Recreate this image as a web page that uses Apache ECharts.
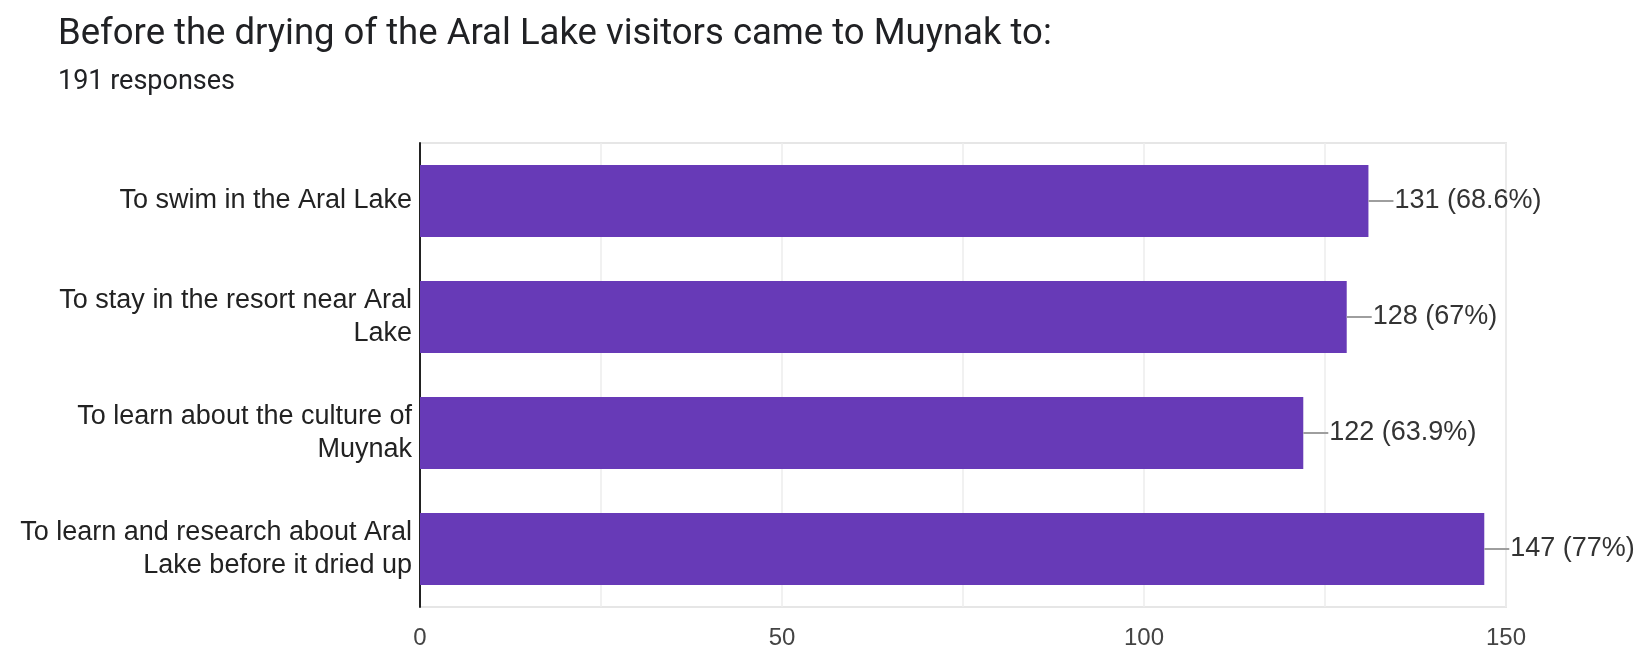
<!DOCTYPE html>
<html>
<head>
<meta charset="utf-8">
<script src="https://cdn.jsdelivr.net/npm/echarts@6/dist/echarts.min.js"></script>
<style>html,body{margin:0;padding:0;background:#fff}#c{width:1644px;height:650px}</style>
</head>
<body>
<div id="c"></div>
<script>
const titleText = 'Before the drying of the Aral Lake visitors came to Muynak to:';
const subtitleText = '191 responses';
const totalResponses = 191;
const categories = [
  'To swim in the Aral Lake',
  'To stay in the resort near Aral Lake',
  'To learn about the culture of Muynak',
  'To learn and research about Aral Lake before it dried up'
];
const counts = [131, 128, 122, 147];
const xTickLabels = [0, 50, 100, 150];

function pct(v) {
  const p = Math.round(v / totalResponses * 1000) / 10;
  return (p % 1 === 0 ? p.toFixed(0) : p.toFixed(1)) + '%';
}

const chartFont = '"Liberation Sans", Arial, sans-serif';
const catFontSize = 27;
const wrapWidth = 402;
const measureCtx = document.createElement('canvas').getContext('2d');
measureCtx.font = catFontSize + 'px ' + chartFont;
function wrap(text) {
  const words = text.split(' ');
  const lines = [];
  let cur = '';
  for (const w of words) {
    const test = cur ? cur + ' ' + w : w;
    if (cur && measureCtx.measureText(test).width > wrapWidth) {
      lines.push(cur);
      cur = w;
    } else {
      cur = test;
    }
  }
  if (cur) lines.push(cur);
  return lines.join('\n');
}

const chart = echarts.init(document.getElementById('c'), null, {renderer: 'canvas'});
chart.setOption({
  animation: false,
  backgroundColor: '#fff',
  title: [
    {text: titleText, left: 53, top: 11,
     textStyle: {fontFamily: 'Roboto', fontSize: 36.5, fontWeight: 'normal', color: '#202124'}},
    {text: subtitleText, left: 53, top: 64,
     textStyle: {fontFamily: 'Roboto', fontSize: 27, fontWeight: 'normal', color: '#202124'}}
  ],
  grid: {left: 420, right: 138, top: 143, bottom: 42, show: true, borderColor: '#e6e6e6', borderWidth: 2},
  xAxis: {
    type: 'value', min: 0, max: 150, interval: 25,
    axisLine: {show: false}, axisTick: {show: false},
    splitLine: {show: true, lineStyle: {color: '#ececec', width: 1.5}},
    axisLabel: {
      margin: 19, color: '#444', fontFamily: chartFont, fontSize: 24,
      formatter: v => xTickLabels.indexOf(v) >= 0 ? String(v) : ''
    }
  },
  yAxis: {
    type: 'category', data: categories, inverse: true,
    axisLine: {show: true, lineStyle: {color: '#222', width: 2}},
    axisTick: {show: false},
    axisLabel: {
      margin: 8, color: '#222', fontFamily: chartFont, fontSize: catFontSize, lineHeight: 33,
      align: 'right', formatter: v => wrap(v)
    }
  },
  series: [{
    type: 'bar', data: counts, barCategoryGap: '38%',
    itemStyle: {color: '#673ab7'},
    label: {
      show: true, position: 'right', distance: 0,
      formatter: p => '{ln|}{t|' + p.value + ' (' + pct(p.value) + ')}',
      rich: {
        ln: {width: 25, height: 2, backgroundColor: '#9e9e9e'},
        t: {fontFamily: chartFont, fontSize: 27, color: '#333', padding: [0, 0, 0, 1]}
      }
    }
  }]
});
</script>
</body>
</html>
